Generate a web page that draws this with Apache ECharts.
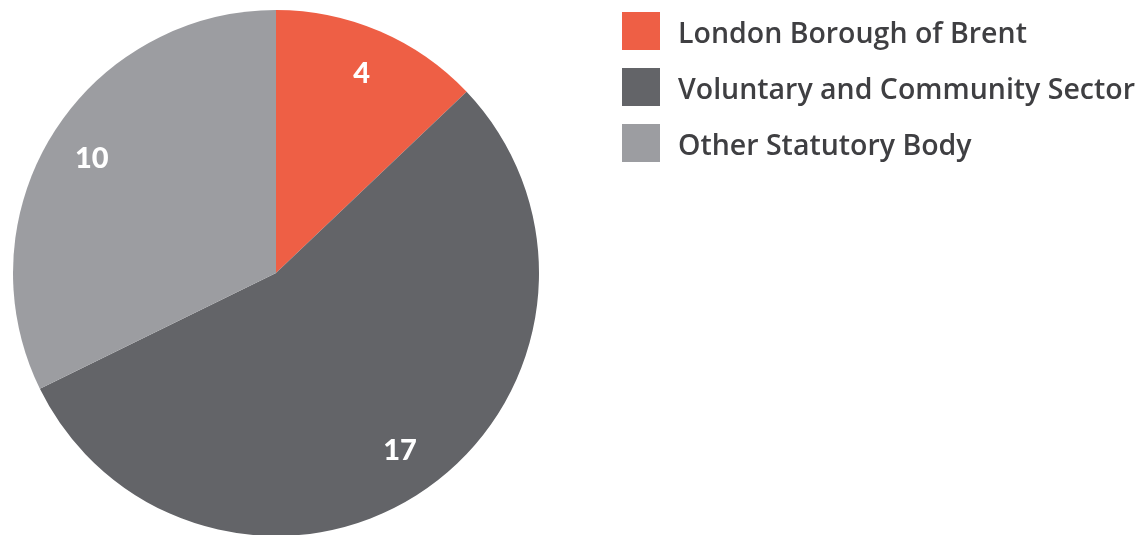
<!DOCTYPE html>
<html>
<head>
<meta charset="utf-8">
<script src="https://cdn.jsdelivr.net/npm/echarts@6/dist/echarts.min.js"></script>
<style>
  html, body { margin: 0; padding: 0; background: #fff; }
  #chart { width: 1142px; height: 535px; }
</style>
</head>
<body>
<div id="chart"></div>
<script>
var categories = ['London Borough of Brent', 'Voluntary and Community Sector', 'Other Statutory Body'];
var values = [4, 17, 10];
var colors = ['#ee5f45', '#636468', '#9c9da1'];

var myChart = echarts.init(document.getElementById('chart'));

var pieData = categories.map(function (name, i) {
    return { name: name, value: values[i], itemStyle: { color: colors[i] } };
});
// transparent ring only used to place the value labels further out
var labelData = categories.map(function (name, i) {
    return { name: name, value: values[i] };
});

var option = {
    animation: false,
    legend: {
        orient: 'vertical',
        left: 617,
        top: 7,
        itemWidth: 38,
        itemHeight: 38,
        itemGap: 18,
        icon: 'rect',
        selectedMode: false,
        data: categories,
        formatter: function (name) {
            return '{t|' + name + '}';
        },
        textStyle: {
            padding: [0, 0, 0, 13],
            rich: {
                t: {
                    fontFamily: 'Open Sans',
                    fontSize: 28.5,
                    fontWeight: 600,
                    color: '#3f3f42',
                    padding: [8, 0, 0, 0]
                }
            }
        }
    },
    series: [{
        name: 'main',
        type: 'pie',
        center: [276, 273],
        radius: [0, 263],
        startAngle: 90,
        clockwise: true,
        silent: true,
        label: { show: false },
        labelLine: { show: false },
        data: pieData
    }, {
        name: 'labels',
        type: 'pie',
        center: [276, 273],
        radius: [165, 263],
        startAngle: 90,
        clockwise: true,
        silent: true,
        itemStyle: { color: 'rgba(0,0,0,0)' },
        label: {
            show: true,
            position: 'inside',
            formatter: '{c}',
            color: '#fff',
            fontFamily: 'Lato',
            fontWeight: 900,
            fontSize: 29
        },
        labelLine: { show: false },
        data: labelData
    }]
};

myChart.setOption(option);
</script>
</body>
</html>
